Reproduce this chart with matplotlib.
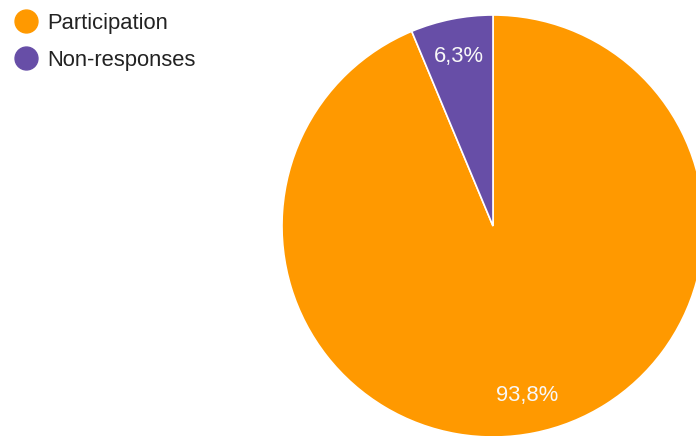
import matplotlib.pyplot as plt
from matplotlib.lines import Line2D

plt.rcParams["font.family"] = ["Liberation Sans", "DejaVu Sans"]

# Survey response split (percent)
categories = ["Participation", "Non-responses"]
shares = [93.8, 6.3]
colors = ["#ff9900", "#674ea7"]

W, H = 696, 436
fig = plt.figure(figsize=(W / 100, H / 100), dpi=100)

# pie centre and radius in pixels
cx, cy, r = 493, 210, 211
ax = fig.add_axes([(cx - r) / W, (cy - r) / H, 2 * r / W, 2 * r / H])

wedges, texts, autotexts = ax.pie(
    shares,
    colors=colors,
    startangle=90,
    counterclock=False,
    autopct=lambda p: f"{p:.1f}".replace(".", ","),
    pctdistance=0.82,
    wedgeprops=dict(edgecolor="white", linewidth=1.2),
    textprops=dict(color="#f8f8f8", fontsize=15.8),
)
for t, v in zip(autotexts, shares):
    t.set_text(f"{v:.1f}%".replace(".", ","))
ax.set_xlim(-1, 1)
ax.set_ylim(-1, 1)

handles = [
    Line2D([], [], linestyle="none", marker="o", markersize=16.5,
           markerfacecolor=c, markeredgecolor=c)
    for c in colors
]
fig.legend(
    handles, categories,
    loc="upper left", bbox_to_anchor=(0.003, 1.0),
    frameon=False, fontsize=15.8,
    handlelength=1.0, handletextpad=0.5,
    labelspacing=0.72, borderaxespad=0.18,
    labelcolor="#222222",
)

fig.savefig("out.png", dpi=100)
